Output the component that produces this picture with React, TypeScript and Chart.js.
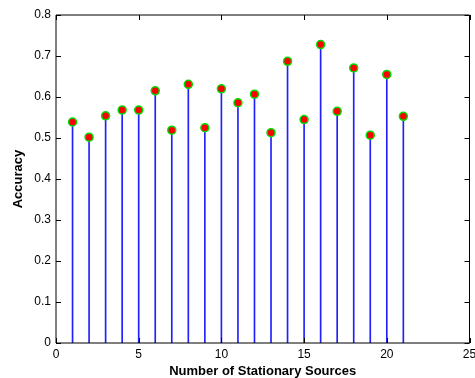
import React, { useEffect, useRef } from "react";
import { Chart, registerables } from "chart.js";

Chart.register(...registerables);

const sources = [1, 2, 3, 4, 5, 6, 7, 8, 9, 10, 11, 12, 13, 14, 15, 16, 17, 18, 19, 20, 21];
const accuracy = [0.539, 0.502, 0.554, 0.568, 0.568, 0.615, 0.519, 0.631, 0.525, 0.62, 0.586, 0.607, 0.513, 0.687, 0.545, 0.728, 0.565, 0.671, 0.507, 0.655, 0.553];
const xTicks = [0, 5, 10, 15, 20, 25];
const yTicks = [0, 0.1, 0.2, 0.3, 0.4, 0.5, 0.6, 0.7, 0.8];

const boxTicksPlugin = {
  id: "boxTicks",
  afterDraw(chart: any) {
    const { ctx, chartArea } = chart;
    const { left, right, top, bottom } = chartArea;
    const xs = chart.scales.x;
    const ys = chart.scales.y;
    const len = 5;
    ctx.save();
    ctx.strokeStyle = "#000";
    ctx.lineWidth = 1;
    ctx.beginPath();
    ctx.rect(left, top, right - left, bottom - top);
    for (const v of xTicks) {
      const px = Math.round(xs.getPixelForValue(v)) + 0.5;
      ctx.moveTo(px, bottom);
      ctx.lineTo(px, bottom - len);
      ctx.moveTo(px, top);
      ctx.lineTo(px, top + len);
    }
    for (const v of yTicks) {
      const py = Math.round(ys.getPixelForValue(v)) + 0.5;
      ctx.moveTo(left, py);
      ctx.lineTo(left + len, py);
      ctx.moveTo(right, py);
      ctx.lineTo(right - len, py);
    }
    ctx.stroke();
    ctx.restore();
  },
};

export default function App() {
  const ref = useRef<HTMLCanvasElement | null>(null);
  useEffect(() => {
    document.body.style.margin = "0";
    const points = sources.map((x, i) => ({ x, y: accuracy[i] }));
    const chart = new Chart(ref.current as HTMLCanvasElement, {
      type: "scatter",
      data: {
        datasets: [
          {
            type: "scatter",
            data: points,
            pointRadius: 4,
            pointBackgroundColor: "#ff0000",
            pointBorderColor: "#00dd00",
            pointBorderWidth: 1.5,
            order: 0,
          } as any,
          {
            type: "bar",
            data: points,
            backgroundColor: "#2020ff",
            borderWidth: 0,
            barThickness: 1,
            order: 1,
          } as any,
        ],
      },
      options: {
        animation: false,
        responsive: true,
        maintainAspectRatio: false,
        layout: { padding: { top: 15, right: 3.5, left: 0, bottom: 0 } },
        plugins: { legend: { display: false }, tooltip: { enabled: false } },
        scales: {
          x: {
            type: "linear",
            min: 0,
            max: 25,
            offset: false,
            afterBuildTicks: (s: any) => {
              s.ticks = xTicks.map((v) => ({ value: v }));
            },
            afterFit: (s: any) => {
              s.height = 35;
              s.paddingLeft = 0;
              s.paddingRight = 0;
            },
            grid: { display: false, drawTicks: false, offset: false },
            border: { display: false },
            ticks: {
              color: "#000",
              padding: 4,
              font: { family: "Liberation Sans, Arial, sans-serif", size: 12 },
              maxRotation: 0,
            },
            title: {
              display: true,
              text: "Number of Stationary Sources",
              color: "#000",
              font: { family: "Liberation Sans, Arial, sans-serif", size: 13, weight: "bold", lineHeight: 1 },
              padding: { top: 0, bottom: 0 },
            },
          },
          y: {
            type: "linear",
            min: 0,
            max: 0.8,
            afterBuildTicks: (s: any) => {
              s.ticks = yTicks.map((v) => ({ value: v }));
            },
            afterFit: (s: any) => {
              s.width = 56;
              s.paddingTop = 0;
              s.paddingBottom = 0;
            },
            grid: { display: false, drawTicks: false },
            border: { display: false },
            ticks: {
              color: "#000",
              padding: 5,
              font: { family: "Liberation Sans, Arial, sans-serif", size: 12 },
              callback: (v: any) => String(Math.round(Number(v) * 10) / 10),
            },
            title: {
              display: true,
              text: "Accuracy",
              color: "#000",
              font: { family: "Liberation Sans, Arial, sans-serif", size: 13, weight: "bold", lineHeight: 1 },
              padding: { top: 12, bottom: 0 },
            },
          },
        },
      },
      plugins: [boxTicksPlugin],
    });
    return () => chart.destroy();
  }, []);
  return (
    <div style={{ position: "relative", width: 475, height: 378 }}>
      <canvas ref={ref} />
    </div>
  );
}
